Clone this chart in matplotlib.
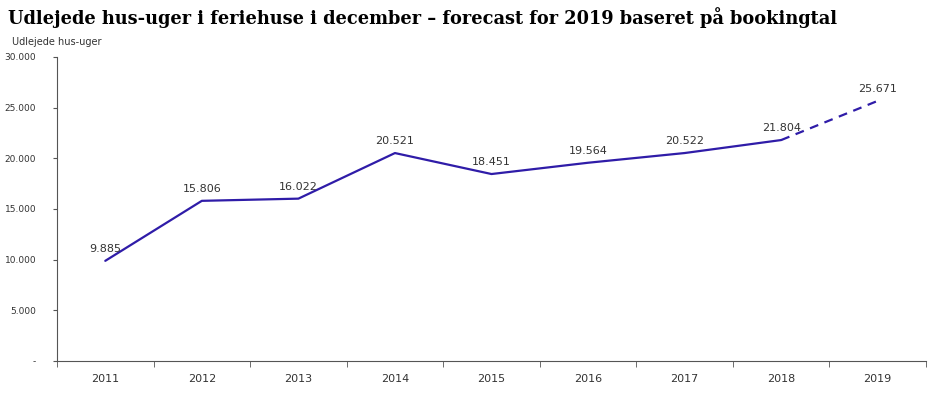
import matplotlib
matplotlib.use("Agg")
import matplotlib.pyplot as plt
import numpy as np

years = ["2011", "2012", "2013", "2014", "2015", "2016", "2017", "2018", "2019"]
values = [9885, 15806, 16022, 20521, 18451, 19564, 20522, 21804, 25671]
labels = ["9.885", "15.806", "16.022", "20.521", "18.451", "19.564", "20.522", "21.804", "25.671"]
yticks = [0, 5000, 10000, 15000, 20000, 25000, 30000]
yticklabels = ["-", "5.000", "10.000", "15.000", "20.000", "25.000", "30.000"]

color = "#2f1ca8"

fig = plt.figure(figsize=(9.46, 3.93), dpi=100)
ax = fig.add_axes([57/946, 32/393, (926-57)/946, (361-57)/393])

x = np.arange(len(years))
ax.plot(x[:8], values[:8], color=color, lw=1.6, solid_capstyle="round")
ax.plot(x[7:], values[7:], color=color, lw=1.6, ls=(0, (4, 3)))

for xi, v, l in zip(x, values, labels):
    ax.annotate(l, (xi, v), xytext=(0, 5), textcoords="offset points",
                ha="center", va="bottom", fontsize=8, color="#333333")

ax.set_xlim(-0.5, len(years) - 0.5)
ax.set_ylim(0, 30000)
ax.set_xticks(x)
ax.set_xticklabels(years, fontsize=8, color="#333333")
ax.tick_params(axis="x", which="major", length=0, pad=9)
ax.set_xticks(np.arange(-0.5, len(years), 1), minor=True)
ax.tick_params(axis="x", which="minor", length=4, color="#555555", direction="out")
ax.set_yticks(yticks)
ax.set_yticklabels(yticklabels, fontsize=6.5, color="#333333")
ax.tick_params(axis="y", length=3, color="#555555", pad=12)
for s in ["top", "right"]:
    ax.spines[s].set_visible(False)
for s in ["left", "bottom"]:
    ax.spines[s].set_color("#555555")
    ax.spines[s].set_linewidth(0.8)

fig.text(12/946, 1 - 42/393, "Udlejede hus-uger", fontsize=7, color="#333333", va="center", ha="left")
fig.text(8/946, 1 - 18/393, "Udlejede hus-uger i feriehuse i december \u2013 forecast for 2019 baseret på bookingtal",
         fontsize=12.8, fontweight="bold", family="DejaVu Serif", va="center", ha="left", color="black")

fig.savefig("out.png", dpi=100)
